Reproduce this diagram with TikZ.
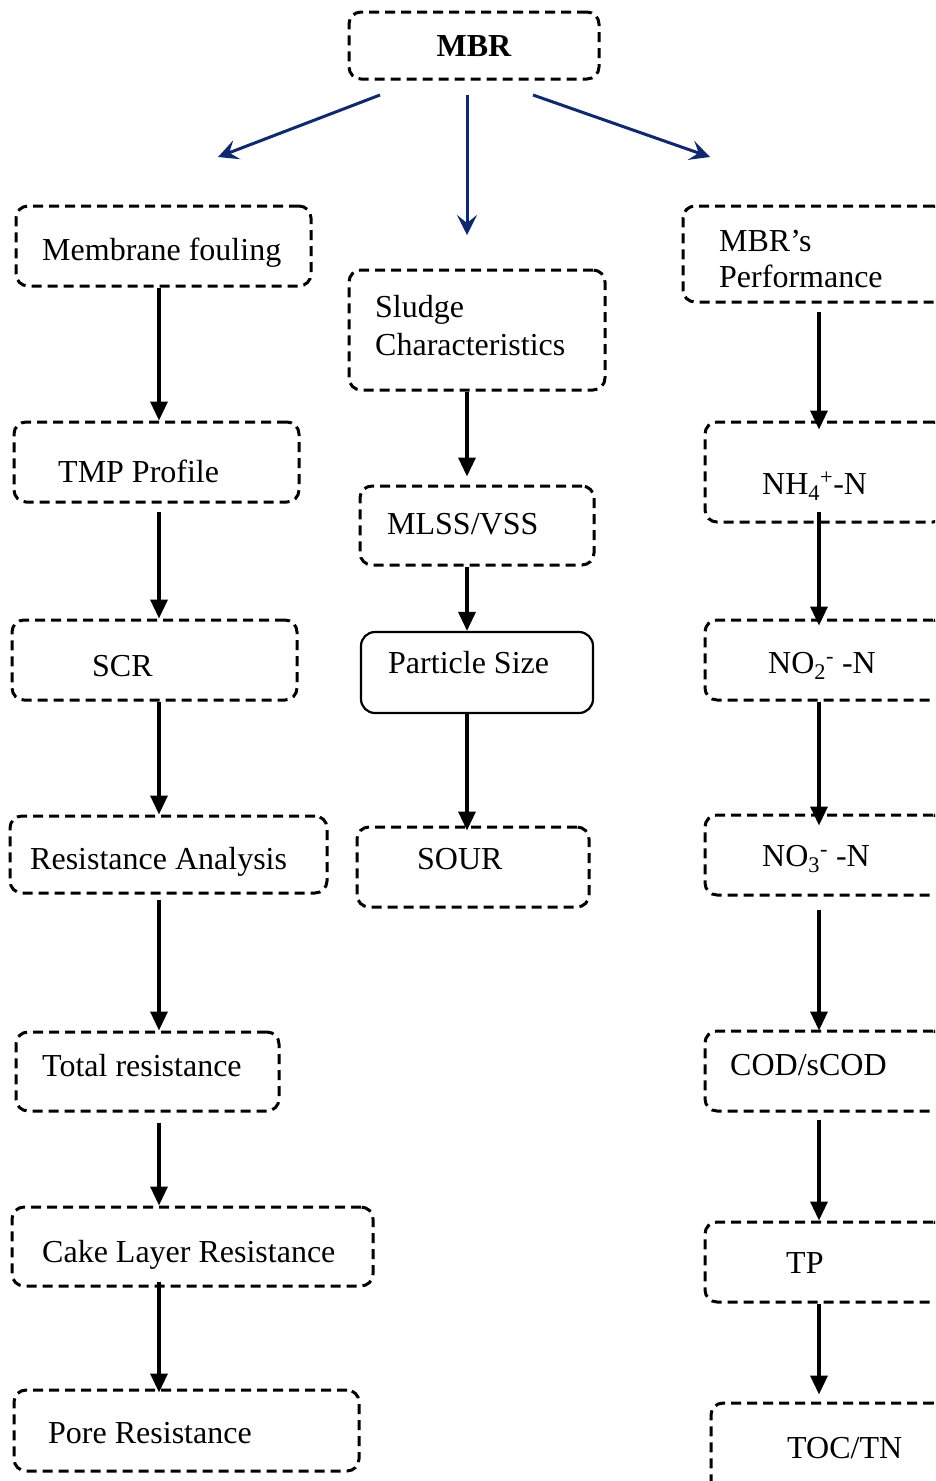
\documentclass[tikz,border=0pt]{standalone}
\usepackage{fontspec}
\setmainfont{Liberation Serif}
\usetikzlibrary{arrows.meta,fit}
\definecolor{navy}{RGB}{16,40,110}
\tikzset{
  box/.style={draw, line width=3pt, dash pattern=on 10pt off 6pt, rounded corners=12pt, inner sep=0pt},
  solidbox/.style={draw, line width=2.2pt, rounded corners=14pt, inner sep=0pt},
  txt/.style={anchor=base west, inner sep=0pt, font=\fontsize{32}{38}\selectfont},
  arr/.style={line width=3.4pt, -{Triangle[length=19pt,width=17pt]}},
  barr/.style={navy, line width=3pt, -{Stealth[length=20pt,width=20pt,inset=8pt]}},
}
\begin{document}
\begin{tikzpicture}[x=1pt,y=-1pt]
\useasboundingbox (0,0) rectangle (935,1481);
\clip (0,0) rectangle (935,1481);
\fill[white] (0,0) rectangle (935,1481);
% column guides
\coordinate (cl) at (159,0);
\coordinate (cm) at (467,0);
\coordinate (cr) at (819,0);
% top
\node[box, fit={(349,12) (599,79)}] (mbr) {};
\node[anchor=base, inner sep=0pt, font=\fontsize{32}{38}\selectfont\bfseries] (mbrt) at (474,56) {MBR};
% left column
\node[box, fit={(16,206) (311,286)}] (mf) {};
\node[txt] (mft) at (42,260) {Membrane fouling};
\node[box, fit={(14,422) (299,502)}] (tmp) {};
\node[txt] (tmpt) at (58,482) {TMP Profile};
\node[box, fit={(12,620) (297,700)}] (scr) {};
\node[txt] (scrt) at (92,676) {SCR};
\node[box, fit={(10,816) (327,893)}] (ra) {};
\node[txt] (rat) at (30,869) {Resistance Analysis};
\node[box, fit={(16,1032) (279,1111)}] (tr) {};
\node[txt] (trt) at (42,1076) {Total resistance};
\node[box, fit={(12,1207) (373,1286)}] (cake) {};
\node[txt] (caket) at (42,1262) {Cake Layer Resistance};
\node[box, fit={(14,1390) (359,1471)}] (pore) {};
\node[txt] (poret) at (48,1443) {Pore Resistance};
% middle column
\node[box, fit={(349,270) (605,390)}] (sc) {};
\node[txt] (sct1) at (375,317) {Sludge};
\node[txt] (sct2) at (375,355) {Characteristics};
\node[box, fit={(360,486) (594,565)}] (mlss) {};
\node[txt] (mlsst) at (387,534) {MLSS/VSS};
\node[solidbox, fit={(361,632) (593,713)}] (ps) {};
\node[txt] (pst) at (388,673) {Particle Size};
\node[box, fit={(357,827) (589,907)}] (sour) {};
\node[txt] (sourt) at (417,869) {SOUR};
% right column
\node[box, fit={(683,206) (945,302)}] (perf) {};
\node[txt] (perft1) at (719,251) {MBR’s};
\node[txt] (perft2) at (719,287) {Performance};
\node[box, fit={(705,422) (945,522)}] (nh4) {};
\node[txt] (nh4t) at (762,494) {NH\textsubscript{4}\textsuperscript{+}-N};
\node[box, fit={(705,620) (945,700)}] (no2) {};
\node[txt] (no2t) at (768,673) {NO\textsubscript{2}\textsuperscript{-} -N};
\node[box, fit={(705,815) (945,895)}] (no3) {};
\node[txt] (no3t) at (762,866) {NO\textsubscript{3}\textsuperscript{-} -N};
\node[box, fit={(705,1031) (945,1111)}] (cod) {};
\node[txt] (codt) at (730,1075) {COD/sCOD};
\node[box, fit={(705,1222) (945,1302)}] (tp) {};
\node[txt] (tpt) at (786,1273) {TP};
\node[box, fit={(711,1403) (945,1500)}] (toc) {};
\node[txt] (toct) at (787,1458) {TOC/TN};
% top blue arrows (free)
\coordinate (b1s) at (380,95);
\coordinate (b1e) at (218,157);
\coordinate (b2s) at (467,95);
\coordinate (b2e) at (467,235);
\coordinate (b3s) at (533,95);
\coordinate (b3e) at (710,157);
\draw[barr] (b1s) -- (b1e);
\draw[barr] (b2s) -- (b2e);
\draw[barr] (b3s) -- (b3e);
% left arrows
\draw[arr] (mf.south -| cl) -- (tmp.north -| cl);
\draw[arr] ([yshift=-8pt]tmp.south -| cl) -- (scr.north -| cl);
\draw[arr] (scr.south -| cl) -- (ra.north -| cl);
\draw[arr] ([yshift=-5pt]ra.south -| cl) -- (tr.north -| cl);
\draw[arr] ([yshift=-10pt]tr.south -| cl) -- (cake.north -| cl);
\draw[arr] ([yshift=6pt]cake.south -| cl) -- ([yshift=-4pt]pore.north -| cl);
% middle arrows
\draw[arr] (sc.south -| cm) -- ([yshift=8pt]mlss.north -| cm);
\draw[arr] (mlss.south -| cm) -- (ps.north -| cm);
\draw[arr] (ps.south -| cm) -- ([yshift=-5pt]sour.north -| cm);
% right arrows
\draw[arr] ([yshift=-8pt]perf.south -| cr) -- ([yshift=-9pt]nh4.north -| cr);
\draw[arr] ([yshift=12pt]nh4.south -| cr) -- ([yshift=-7pt]no2.north -| cr);
\draw[arr] (no2.south -| cr) -- ([yshift=-12pt]no3.north -| cr);
\draw[arr] ([yshift=-13pt]no3.south -| cr) -- ([yshift=-1pt]cod.north -| cr);
\draw[arr] ([yshift=-7pt]cod.south -| cr) -- (tp.north -| cr);
\draw[arr] (tp.south -| cr) -- ([yshift=7pt]toc.north -| cr);
\end{tikzpicture}
\end{document}
